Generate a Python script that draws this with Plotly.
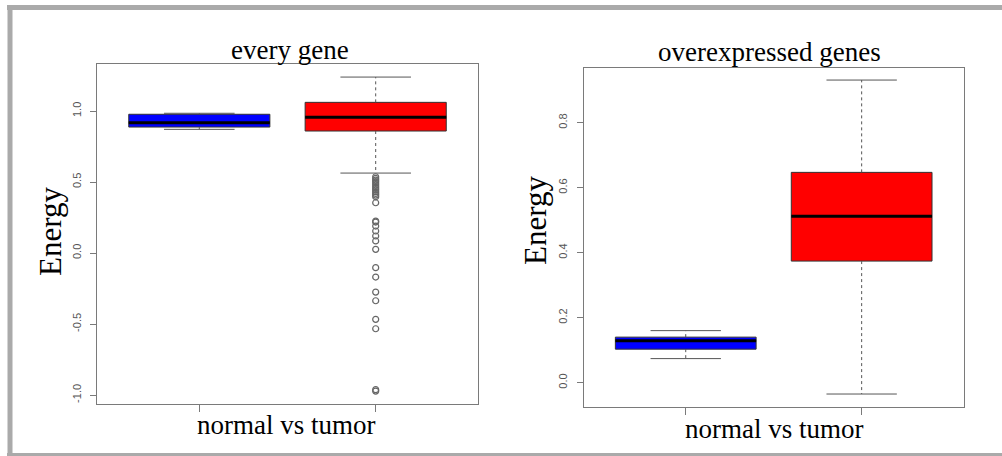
import plotly.graph_objects as go

W, H = 1002, 456

# ---- data ----
positions = [1, 2]
groups = ["normal", "tumor"]
colors = ["#0000ff", "#ff0000"]

# panel 1: every gene
p1_q1 = [0.887, 0.859]
p1_med = [0.918, 0.956]
p1_q3 = [0.977, 1.061]
p1_lo = [0.871, 0.563]
p1_hi = [0.984, 1.239]
p1_outliers_tumor = [0.537, 0.525, 0.514, 0.503, 0.491, 0.479, 0.467, 0.455, 0.444,
                     0.432, 0.420, 0.408, 0.396, 0.354, 0.225, 0.218, 0.190, 0.155,
                     0.120, 0.085, 0.026, -0.103, -0.169, -0.275, -0.336, -0.467,
                     -0.533, -0.962, -0.972]
p1_yticks = [-1.0, -0.5, 0.0, 0.5, 1.0]
p1_yticktext = ["-1.0", "-0.5", "0.0", "0.5", "1.0"]

# panel 2: overexpressed genes
p2_q1 = [0.103, 0.374]
p2_med = [0.129, 0.512]
p2_q3 = [0.140, 0.647]
p2_lo = [0.074, -0.035]
p2_hi = [0.160, 0.931]
p2_yticks = [0.0, 0.2, 0.4, 0.6, 0.8]
p2_yticktext = ["0.0", "0.2", "0.4", "0.6", "0.8"]

titles = ["every gene", "overexpressed genes"]
xlabel = "normal vs tumor"
ylabel = "Energy"

BOXW = 0.8
STAPLE = 0.4
FRAME = "#7a7a7a"
WHISK = "#555555"
SERIF = "Liberation Serif, Times New Roman, serif"
SANS = "Liberation Sans, Arial, sans-serif"

fig = go.Figure()


def add_panel(ax, q1, med, q3, lo, hi, outliers):
    xr, yr = "x" + ax, "y" + ax
    for i, p in enumerate(positions):
        # whiskers (dashed)
        fig.add_trace(go.Scatter(x=[p, p, None, p, p], y=[q3[i], hi[i], None, q1[i], lo[i]],
                                 mode="lines", line=dict(color=WHISK, width=1, dash="3px,3px"),
                                 xaxis=xr, yaxis=yr, showlegend=False, hoverinfo="skip"))
        # staples
        fig.add_trace(go.Scatter(x=[p - STAPLE / 2, p + STAPLE / 2, None, p - STAPLE / 2, p + STAPLE / 2],
                                 y=[hi[i], hi[i], None, lo[i], lo[i]],
                                 mode="lines", line=dict(color=WHISK, width=1),
                                 xaxis=xr, yaxis=yr, showlegend=False, hoverinfo="skip"))
        # box body
        fig.add_trace(go.Box(x=[p], q1=[q1[i]], median=[med[i]], q3=[q3[i]],
                             lowerfence=[q1[i]], upperfence=[q3[i]], width=BOXW,
                             whiskerwidth=0, fillcolor=colors[i],
                             line=dict(color="#333333", width=1), boxpoints=False,
                             name=groups[i], xaxis=xr, yaxis=yr, showlegend=False,
                             hoverinfo="skip"))
        # median (thick)
        fig.add_trace(go.Scatter(x=[p - BOXW / 2, p + BOXW / 2], y=[med[i], med[i]],
                                 mode="lines", line=dict(color="#000000", width=3),
                                 xaxis=xr, yaxis=yr, showlegend=False, hoverinfo="skip"))
    if outliers:
        fig.add_trace(go.Scatter(x=[positions[1]] * len(outliers), y=outliers, mode="markers",
                                 marker=dict(symbol="circle-open", size=6,
                                             color="#666666", line=dict(width=1.2)),
                                 xaxis=xr, yaxis=yr, showlegend=False, hoverinfo="skip"))


add_panel("", p1_q1, p1_med, p1_q3, p1_lo, p1_hi, p1_outliers_tumor)
add_panel("2", p2_q1, p2_med, p2_q3, p2_lo, p2_hi, None)


def px_x(v):
    return v / W


def px_y(v):
    return (H - v) / H


common_x = dict(range=[0.42, 2.58], tickvals=positions, ticktext=["", ""], ticks="outside",
                ticklen=7, tickcolor=FRAME, showline=True, linecolor=FRAME, linewidth=1,
                mirror=True, showgrid=False, zeroline=False, fixedrange=True)
common_y = dict(ticks="outside", ticklen=6, tickcolor=FRAME, showline=True, linecolor=FRAME,
                linewidth=1, mirror=True, showgrid=False, zeroline=False, tickangle=-90,
                tickfont=dict(family=SANS, size=11, color="#555555"), ticklabelstandoff=5)

fig.update_layout(
    width=W, height=H, margin=dict(l=0, r=0, t=0, b=0),
    paper_bgcolor="white", plot_bgcolor="white", showlegend=False,
    xaxis=dict(domain=[px_x(97), px_x(478)], anchor="y", **common_x),
    yaxis=dict(domain=[px_y(404), px_y(64)], anchor="x", range=[-1.063, 1.331],
               tickvals=p1_yticks, ticktext=p1_yticktext, **common_y),
    xaxis2=dict(domain=[px_x(583.7), px_x(963.7)], anchor="y2", **common_x),
    yaxis2=dict(domain=[px_y(406.7), px_y(67.7)], anchor="x2", range=[-0.074, 0.969],
                tickvals=p2_yticks, ticktext=p2_yticktext, **common_y),
)

ann = []
# titles
ann.append(dict(text=titles[0], x=px_x(290), y=px_y(50), xref="paper", yref="paper",
                showarrow=False, font=dict(family=SERIF, size=27, color="black"),
                xanchor="center", yanchor="middle"))
ann.append(dict(text=titles[1], x=px_x(769), y=px_y(52), xref="paper", yref="paper",
                showarrow=False, font=dict(family=SERIF, size=27, color="black"),
                xanchor="center", yanchor="middle"))
# x labels
ann.append(dict(text=xlabel, x=px_x(286), y=px_y(425), xref="paper", yref="paper",
                showarrow=False, font=dict(family=SERIF, size=27, color="black"),
                xanchor="center", yanchor="middle"))
ann.append(dict(text=xlabel, x=px_x(774), y=px_y(429), xref="paper", yref="paper",
                showarrow=False, font=dict(family=SERIF, size=27, color="black"),
                xanchor="center", yanchor="middle"))
# y labels
ann.append(dict(text=ylabel, x=px_x(50), y=px_y(232), xref="paper", yref="paper",
                showarrow=False, textangle=-90, font=dict(family=SERIF, size=31, color="black"),
                xanchor="center", yanchor="middle"))
ann.append(dict(text=ylabel, x=px_x(535), y=px_y(221), xref="paper", yref="paper",
                showarrow=False, textangle=-90, font=dict(family=SERIF, size=31, color="black"),
                xanchor="center", yanchor="middle"))
fig.update_layout(annotations=ann)

# outer grey frame of the picture
BORDER = "#aaaaaa"
fig.add_shape(type="line", xref="paper", yref="paper", x0=px_x(7), x1=1, y0=px_y(7.5), y1=px_y(7.5),
              line=dict(color=BORDER, width=5))
fig.add_shape(type="line", xref="paper", yref="paper", x0=px_x(10), x1=px_x(10), y0=px_y(5), y1=0,
              line=dict(color=BORDER, width=5))
fig.add_shape(type="line", xref="paper", yref="paper", x0=px_x(7), x1=1, y0=px_y(454.5), y1=px_y(454.5),
              line=dict(color=BORDER, width=3))

fig.write_html("out.html", config={"displayModeBar": False},
               post_script="document.body.style.margin='0px';")
